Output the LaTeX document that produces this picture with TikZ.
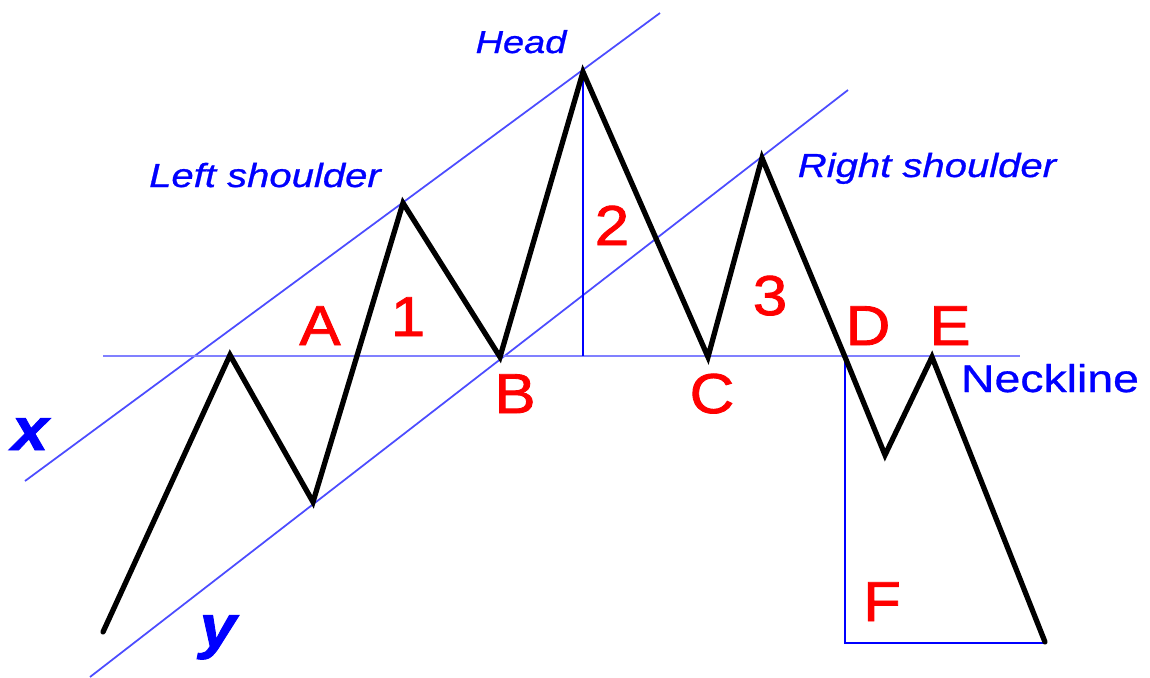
\documentclass[tikz,border=0pt]{standalone}
\usepackage{fontspec}
\setmainfont{Liberation Sans}
\newfontfamily\widefont[FakeStretch=1.2,FakeBold=0.8]{Liberation Sans}
\newfontfamily\redfont[FakeStretch=1.1,FakeBold=1.5]{Liberation Sans}
\usetikzlibrary{positioning}

\begin{document}
\begin{tikzpicture}[x=0.1mm,y=-0.1mm,
  price/.style={line width=1.5pt,line join=miter,line cap=round},
  guide/.style={blue!70,line width=0.5pt},
  tag/.style={blue,anchor=base,font=\widefont\fontsize{9.5}{11}\selectfont\itshape},
  pt/.style={red,anchor=base,font=\redfont\fontsize{16}{18}\selectfont},
  axis/.style={blue,anchor=base,font=\redfont\fontsize{17}{19}\selectfont\bfseries\itshape},
]
  \useasboundingbox (0,0) rectangle (1150,677);

  % price path
  \foreach \n/\x/\y in {0/103/632,1/230/355,2/313/502,3/403/203,4/500/357,5/583/72,
                        6/708/357,7/762/158,8/845/357,9/885/455,10/932/357,11/1045/642}
    \coordinate (p\n) at (\x,\y);

  % guide lines
  \coordinate (xa) at (25,481);
  \coordinate (xb) at (660,13);
  \coordinate (ya) at (90,677);
  \coordinate (yb) at (848,90);
  \coordinate (na) at (103,356);
  \coordinate (nb) at (1020,356);
  \coordinate (hb) at (583,356);
  \coordinate (fa) at (845,643);
  \coordinate (fb) at (1045,643);

  \draw[guide] (xa) -- (xb);
  \draw[guide] (ya) -- (yb);
  \draw[guide,blue!50] (na) -- (nb);
  \draw[guide,blue] (p5) -- (hb);
  \draw[guide,blue] (p8) -- (fa) -- (fb);

  \draw[price] (p0) \foreach \n in {1,...,11} { -- (p\n) };

  % labels
  \node[tag,font=\widefont\fontsize{9}{11}\selectfont\itshape] (head) at (521,53) {Head};
  \node[tag] (lsh) at (265,187) {Left shoulder};
  \node[tag] (rsh) at (927,177) {Right shoulder};
  \node[tag,font=\widefont\fontsize{11}{13}\selectfont] (neck) at (1050,392) {Neckline};
  \node[axis] (xl) at (30,450) {x};
  \node[axis] (yl) at (218,647) {y};

  \node[pt] (la) at (320,345) {A};
  \node[pt] (l1) at (408,336) {1};
  \node[pt] (l2) at (612,245) {2};
  \node[pt] (l3) at (770,315) {3};
  \node[pt] (lb) at (515,413) {B};
  \node[pt] (lc) at (712,413) {C};
  \node[pt] (ld) at (868,345) {D};
  \node[pt] (le) at (950,345) {E};
  \node[pt] (lf) at (882,621) {F};
\end{tikzpicture}
\end{document}
